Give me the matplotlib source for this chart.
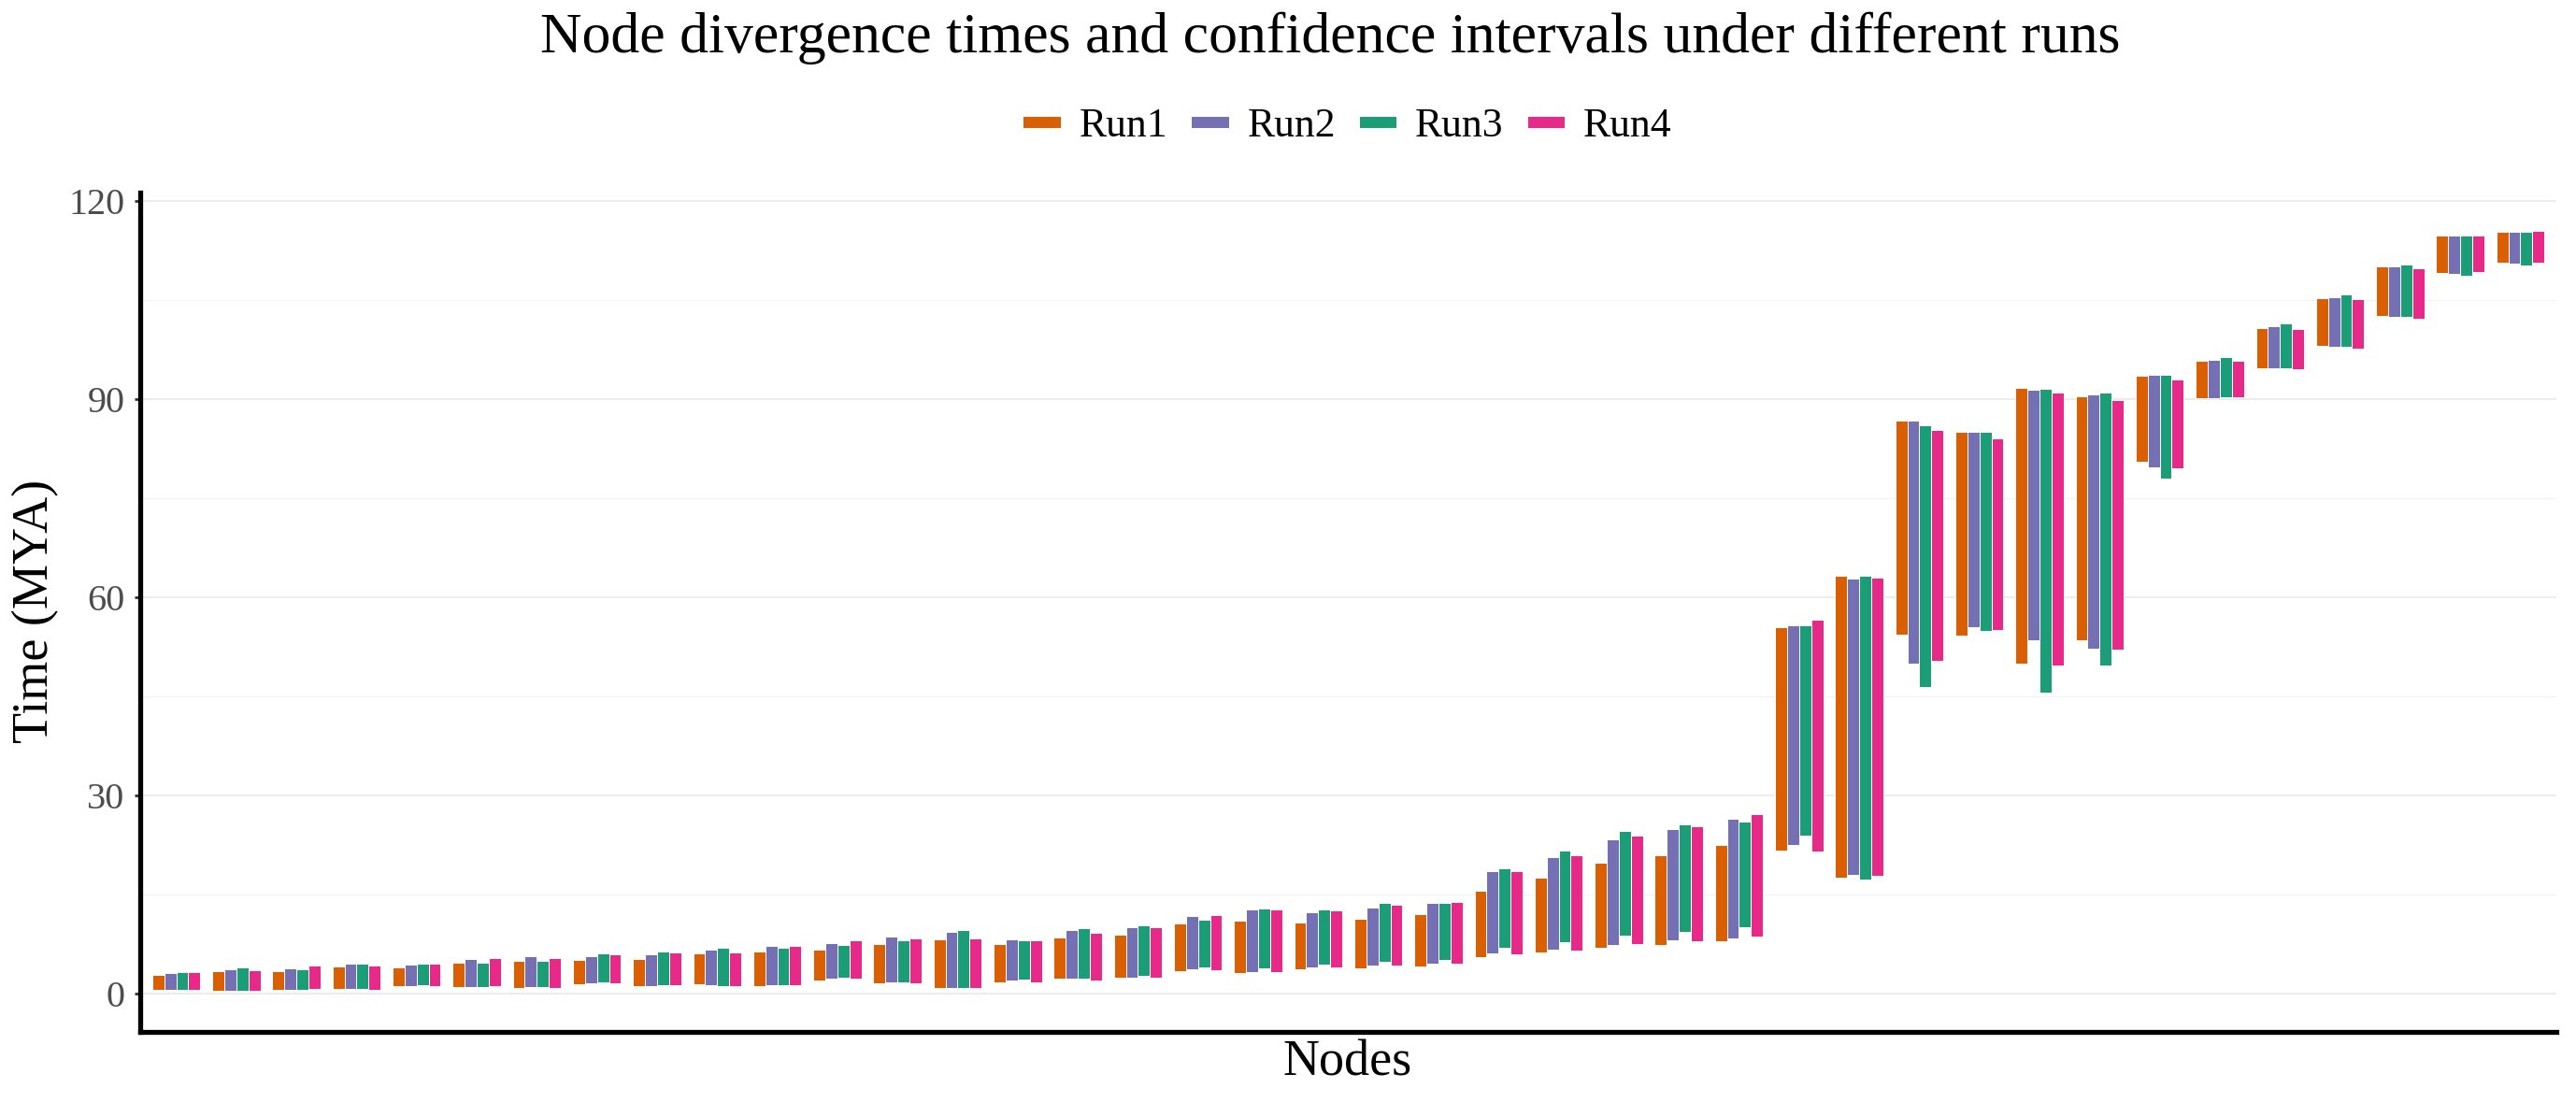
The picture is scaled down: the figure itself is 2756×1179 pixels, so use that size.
import numpy as np
import matplotlib
matplotlib.use("Agg")
import matplotlib.pyplot as plt
from matplotlib.lines import Line2D

plt.rcParams['font.family'] = ['Liberation Serif', 'DejaVu Serif']

# Node data: upper / lower bounds of the confidence interval per run (MYA)
runs = ["Run1", "Run2", "Run3", "Run4"]
colors = ["#D95F02", "#7570B3", "#1B9E77", "#E7298A"]

run1_upper = [2.9, 3.33, 3.43, 4.15, 4.0, 4.7, 4.98, 5.1, 5.28, 6.08,
              6.36, 6.7, 7.45, 8.25, 7.45, 8.53, 8.95, 10.55, 11.03, 10.8,
              11.3, 11.97, 15.5, 17.5, 19.75, 20.9, 22.5, 55.4, 63.3, 86.75,
              85.0, 91.65, 90.4, 93.6, 95.8, 100.7, 105.3, 110.1, 114.8, 115.3]
run1_lower = [0.56, 0.47, 0.56, 0.66, 1.13, 0.94, 0.89, 1.46, 1.08, 1.37,
              1.13, 2.0, 1.6, 0.9, 1.74, 2.2, 2.4, 3.4, 3.15, 3.63,
              3.86, 4.15, 5.56, 6.17, 6.93, 7.4, 7.87, 21.6, 17.6, 54.3,
              54.2, 49.9, 53.5, 80.5, 90.1, 94.6, 98.0, 102.6, 109.1, 110.6]

run2_upper = [3.1, 3.7, 3.8, 4.5, 4.45, 5.26, 5.6, 5.7, 5.94, 6.7,
              7.2, 7.68, 8.6, 9.33, 8.15, 9.6, 10.04, 11.78, 12.8, 12.3,
              12.96, 13.7, 18.57, 20.7, 23.3, 24.9, 26.4, 55.7, 62.85, 86.7,
              85.05, 91.4, 90.7, 93.7, 95.9, 101.0, 105.45, 110.1, 114.8, 115.3]
run2_lower = [0.56, 0.47, 0.56, 0.75, 1.13, 1.03, 0.94, 1.55, 1.18, 1.32,
              1.27, 2.2, 1.7, 0.9, 1.93, 2.26, 2.47, 3.63, 3.3, 4.0,
              4.29, 4.57, 6.08, 6.7, 7.4, 8.06, 8.35, 22.5, 18.0, 49.9,
              55.5, 53.5, 52.2, 79.7, 90.2, 94.6, 97.95, 102.5, 108.9, 110.5]

run3_upper = [3.2, 3.9, 3.7, 4.5, 4.6, 4.7, 5.0, 6.06, 6.4, 6.93,
              6.93, 7.4, 8.1, 9.66, 8.0, 9.94, 10.3, 11.2, 12.85, 12.77,
              13.7, 13.67, 19.0, 21.7, 24.6, 25.6, 26.0, 55.75, 63.3, 86.1,
              85.0, 91.55, 90.95, 93.65, 96.3, 101.4, 105.8, 110.4, 114.7, 115.3]
run3_lower = [0.56, 0.47, 0.56, 0.66, 1.22, 0.99, 0.99, 1.69, 1.27, 1.18,
              1.32, 2.35, 1.7, 0.9, 2.07, 2.26, 2.73, 4.0, 3.77, 4.43,
              4.8, 5.13, 6.93, 7.78, 8.77, 9.4, 10.0, 23.85, 17.2, 46.4,
              54.9, 45.6, 49.7, 78.0, 90.3, 94.6, 97.9, 102.5, 108.6, 110.2]

run4_upper = [3.28, 3.47, 4.2, 4.2, 4.55, 5.4, 5.45, 6.0, 6.26, 6.17,
              7.2, 8.0, 8.35, 8.4, 8.05, 9.2, 10.08, 11.92, 12.8, 12.63,
              13.4, 13.9, 18.53, 20.9, 23.85, 25.3, 27.1, 56.6, 62.9, 85.3,
              84.1, 91.0, 89.9, 93.0, 95.8, 100.6, 105.1, 109.8, 114.8, 115.4]
run4_lower = [0.56, 0.42, 0.66, 0.56, 1.08, 1.08, 0.8, 1.55, 1.27, 1.08,
              1.22, 2.2, 1.6, 0.9, 1.74, 1.93, 2.47, 3.49, 3.2, 4.0,
              4.25, 4.5, 5.88, 6.55, 7.55, 7.9, 8.6, 21.45, 17.8, 50.4,
              55.0, 49.7, 52.1, 79.5, 90.3, 94.55, 97.7, 102.2, 109.2, 110.6]

uppers = [run1_upper, run2_upper, run3_upper, run4_upper]
lowers = [run1_lower, run2_lower, run3_lower, run4_lower]

n_nodes = len(run1_upper)
x = np.arange(n_nodes)
bar_w = 0.2

fig = plt.figure(figsize=(27.56, 11.79), dpi=100)
ax = fig.add_axes([0.0544, 0.0636, 0.938, 0.7619])

for i in range(4):
    up = np.array(uppers[i])
    lo = np.array(lowers[i])
    ax.bar(x + (i - 1.5) * bar_w, up - lo, bottom=lo, width=bar_w,
           color=colors[i], edgecolor='white', linewidth=0.7, zorder=3)

ax.set_xlim(-0.6, n_nodes - 1 + 0.6)
ax.set_ylim(-5.8, 121.3)
ax.set_xticks([])
ax.set_yticks([0, 30, 60, 90, 120])
ax.set_yticks([15, 45, 75, 105], minor=True)
ax.grid(axis='y', which='major', color='#EBEBEB', linewidth=1.3, zorder=0)
ax.grid(axis='y', which='minor', color='#F2F2F2', linewidth=0.9, zorder=0)
ax.tick_params(axis='y', which='major', labelsize=29, labelcolor='#4D4D4D',
               length=4, width=2, color='#333333', pad=8)
ax.tick_params(axis='y', which='minor', length=0)

for side in ['top', 'right']:
    ax.spines[side].set_visible(False)
for side in ['left', 'bottom']:
    ax.spines[side].set_linewidth(3.8)
    ax.spines[side].set_color('black')

cx = 0.5232
fig.text(0.5165, 0.965, 'Node divergence times and confidence intervals under different runs',
         ha='center', va='center', fontsize=44.5)
fig.text(0.0138, 0.445, 'Time (MYA)', rotation=90, ha='center', va='center', fontsize=39)
fig.text(cx, 0.0356, 'Nodes', ha='center', va='center', fontsize=39)

handles = [Line2D([0], [0], color=c, linewidth=8.6, solid_capstyle='butt') for c in colors]
ax.legend(handles, runs, loc='center', bbox_to_anchor=(cx, 0.8855),
          bbox_transform=fig.transFigure, ncol=4, frameon=False, fontsize=31.5,
          handlelength=0.9, handletextpad=0.45, columnspacing=0.6)

fig.savefig('out.png', dpi=100)
